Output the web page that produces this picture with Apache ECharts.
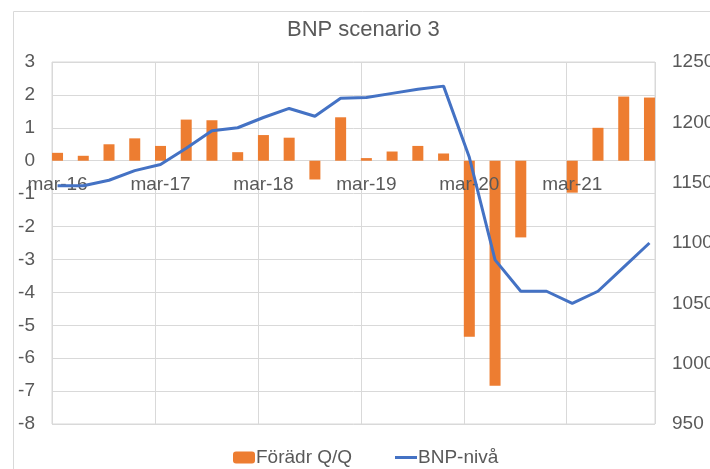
<!DOCTYPE html>
<html>
<head>
<meta charset="utf-8">
<script src="https://cdn.jsdelivr.net/npm/echarts@6/dist/echarts.min.js"></script>
<style>
  html, body { margin: 0; padding: 0; background: #fff; }
  #chart { width: 710px; height: 469px; }
</style>
</head>
<body>
<div id="chart"></div>
<script>
// kvartal mar-16 .. dec-21
const quarters = ['mar-16', 'jun-16', 'sep-16', 'dec-16', 'mar-17', 'jun-17', 'sep-17', 'dec-17',
  'mar-18', 'jun-18', 'sep-18', 'dec-18', 'mar-19', 'jun-19', 'sep-19', 'dec-19',
  'mar-20', 'jun-20', 'sep-20', 'dec-20', 'mar-21', 'jun-21', 'sep-21', 'dec-21']

// Förädr Q/Q (vänster axel, %)
const changeQQ = [0.24, 0.15, 0.5, 0.68, 0.45, 1.25, 1.23, 0.26, 0.78, 0.7, -0.57, 1.32,
  0.08, 0.28, 0.45, 0.22, -5.35, -6.84, -2.33, 0, -0.97, 1.0, 1.95, 1.92]

// BNP-nivå (höger axel)
const gdpLevel = [1147.5, 1147.5, 1152, 1160, 1165, 1178.5, 1193, 1195.5, 1204, 1211.5, 1205, 1220,
  1220.5, 1224, 1227.5, 1230, 1171, 1086, 1060, 1060, 1050, 1060, 1080, 1100]

const labelEvery = 4
const leftTicks = { min: -8, max: 3, step: 1 }
const rightTicks = { min: 950, max: 1250, step: 50 }

// Excel datumaxel: punkterna sitter en halv stapelbredd innanför gridlinjen
const OFF = 0.215
const X_MAX = 23.43

const font = "'Liberation Sans', Arial, sans-serif"
const grey = '#595959'
const gridGrey = '#d9d9d9'

const G = { left: 52, right: 55, top: 62, bottom: 45 }
const plotH = 469 - G.top - G.bottom
// kategorietiketterna ligger vid 0 på vänster axel
const zeroShift = -plotH * (0 - leftTicks.min) / (leftTicks.max - leftTicks.min)

const chart = echarts.init(document.getElementById('chart'))

const barData = changeQQ.map((v, i) => [i + OFF, v])
const lineData = gdpLevel.map((v, i) => [i + OFF, v])
const labelPos = quarters.map((q, i) => i + OFF).filter((v, i) => i % labelEvery === 0)

chart.setOption({
  animation: false,
  textStyle: { fontFamily: font },
  graphic: [{
    type: 'rect',
    shape: { x: 13.5, y: 11.5, width: 720, height: 480 },
    style: { fill: 'none', stroke: gridGrey, lineWidth: 1 },
    silent: true
  }],
  title: {
    text: 'BNP scenario 3',
    left: 282,
    top: 14,
    textStyle: { fontFamily: font, fontSize: 22, fontWeight: 'normal', color: grey }
  },
  legend: [{
    data: ['Förädr Q/Q'],
    left: 228,
    top: 443,
    itemWidth: 22,
    itemHeight: 12,
    textStyle: { fontFamily: font, fontSize: 19, color: grey, padding: [0, 0, 0, -4] }
  }, {
    data: [{ name: 'BNP-nivå', icon: 'rect' }],
    left: 390,
    top: 443,
    itemWidth: 22,
    itemHeight: 3,
    textStyle: { fontFamily: font, fontSize: 19, color: grey, padding: [0, 0, 0, -4] }
  }],
  grid: {
    left: G.left, right: G.right, top: G.top, bottom: G.bottom,
    outerBoundsMode: 'none',
    show: true, borderColor: gridGrey, borderWidth: 1
  },
  xAxis: [{
    // dataaxel med gridlinjer
    type: 'value',
    position: 'bottom',
    min: 0,
    max: X_MAX,
    interval: labelEvery,
    axisLine: { show: false, onZero: false },
    axisTick: { show: false },
    axisLabel: { show: false },
    splitLine: { show: true, lineStyle: { color: gridGrey } }
  }, {
    // etikettaxel vid nollan, ritas över staplarna men under linjen
    type: 'value',
    position: 'bottom',
    offset: zeroShift,
    min: 0,
    max: X_MAX,
    interval: labelEvery,
    z: 2,
    axisLine: { show: false, onZero: false },
    axisTick: { show: false },
    splitLine: { show: false },
    axisLabel: {
      customValues: labelPos,
      margin: 15,
      fontFamily: font,
      fontSize: 19,
      color: grey,
      formatter: v => quarters[Math.round(v - OFF)] || ''
    }
  }],
  yAxis: [{
    type: 'value',
    min: leftTicks.min,
    max: leftTicks.max,
    interval: leftTicks.step,
    axisLine: { show: false, onZero: false },
    axisTick: { show: false },
    splitLine: { lineStyle: { color: gridGrey } },
    axisLabel: { margin: 17, fontFamily: font, fontSize: 19, color: grey }
  }, {
    type: 'value',
    min: rightTicks.min,
    max: rightTicks.max,
    interval: rightTicks.step,
    axisLine: { show: false, onZero: false },
    axisTick: { show: false },
    splitLine: { show: false },
    axisLabel: { margin: 17, fontFamily: font, fontSize: 19, color: grey, formatter: v => String(v) }
  }],
  series: [{
    name: 'Förädr Q/Q',
    type: 'bar',
    xAxisIndex: 0,
    yAxisIndex: 0,
    barWidth: 11,
    z: 1,
    itemStyle: { color: '#ED7D31' },
    data: barData
  }, {
    name: 'BNP-nivå',
    type: 'line',
    xAxisIndex: 0,
    yAxisIndex: 1,
    symbol: 'none',
    z: 3,
    lineStyle: { color: '#4472C4', width: 3 },
    itemStyle: { color: '#4472C4' },
    data: lineData
  }]
})
</script>
</body>
</html>
